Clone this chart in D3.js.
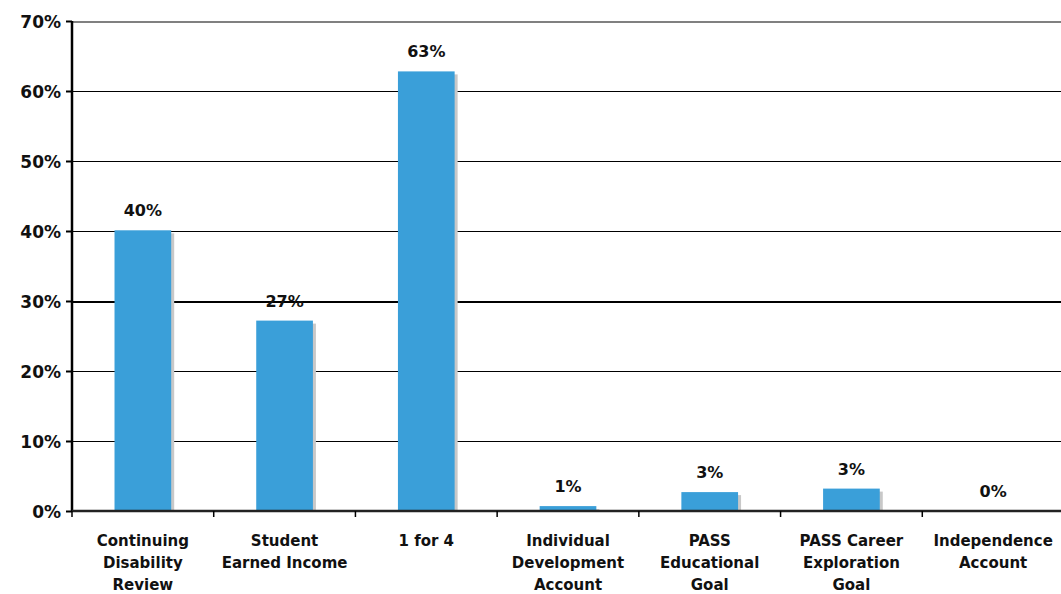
<!DOCTYPE html>
<html><head><meta charset="utf-8">
<script src="https://cdn.jsdelivr.net/npm/d3@7"></script>
<style>body{margin:0;background:#fff;}svg{display:block;}</style>
</head><body>
<svg id="c" width="1061" height="594"></svg>
<script>
const categories = [
  ["Continuing", "Disability", "Review"],
  ["Student", "Earned Income"],
  ["1 for 4"],
  ["Individual", "Development", "Account"],
  ["PASS", "Educational", "Goal"],
  ["PASS Career", "Exploration", "Goal"],
  ["Independence", "Account"]
];
const values = [40.1, 27.2, 62.8, 0.7, 2.7, 3.2, 0];
const valueLabels = ["40%", "27%", "63%", "1%", "3%", "3%", "0%"];
const yTicks = [0, 10, 20, 30, 40, 50, 60, 70];

const svg = d3.select("#c");
const x0 = 72, plotW = 992, yTop = 21, yBot = 511;
const x = d3.scaleBand().domain(d3.range(categories.length)).range([x0, x0 + plotW]).paddingInner(0.6).paddingOuter(0.3);
const xb = d3.scaleBand().domain(d3.range(categories.length)).range([x0, x0 + plotW]);
const y = d3.scaleLinear().domain([0, 70]).range([yBot, yTop]);
const font = "'DejaVu Sans', Verdana, sans-serif";

// gridlines
svg.append("g").attr("shape-rendering", "crispEdges").selectAll("line").data(yTicks.filter(d => d > 0)).join("line")
  .attr("x1", x0).attr("x2", 1061)
  .attr("y1", d => Math.round(y(d)) + 0.5).attr("y2", d => Math.round(y(d)) + 0.5)
  .attr("stroke", d => d === 70 ? "#808080" : "#000")
  .attr("stroke-width", d => d === 30 ? 2 : (d === 70 ? 2 : 1));

// shadows
svg.append("g").selectAll("rect").data(values).join("rect")
  .attr("x", (d, i) => x(i) + 3).attr("width", x.bandwidth())
  .attr("y", d => y(d) + 3).attr("height", d => Math.max(0, yBot - y(d) - 3))
  .attr("fill", "#c8c8c8");
// bars
svg.append("g").selectAll("rect").data(values).join("rect")
  .attr("x", (d, i) => x(i)).attr("width", x.bandwidth())
  .attr("y", d => y(d)).attr("height", d => yBot - y(d))
  .attr("fill", "#3a9fd9");

// value labels
svg.append("g").selectAll("text").data(values).join("text")
  .attr("x", (d, i) => x(i) + x.bandwidth() / 2)
  .attr("y", d => y(d) - 14)
  .attr("text-anchor", "middle")
  .attr("font-family", font).attr("font-weight", "bold").attr("font-size", 16)
  .attr("fill", "#111")
  .text((d, i) => valueLabels[i]);

// y axis
const yAxis = d3.axisLeft(y).tickValues(yTicks).tickFormat(d => d + "%").tickSize(6).tickPadding(5);
const ga = svg.append("g").attr("transform", `translate(${x0},0)`).call(yAxis);
ga.select(".domain").attr("stroke", "#000").attr("stroke-width", 2.5).attr("d", `M0,${yTop}V${yBot}`);
ga.selectAll(".tick line").attr("stroke", "#000").attr("stroke-width", 2);
ga.selectAll(".tick text").attr("font-family", font).attr("font-weight", "bold").attr("font-size", 17).attr("fill", "#111").attr("dy", "0.36em");

// x axis
const gx = svg.append("g").attr("transform", `translate(0,${yBot})`);
gx.append("line").attr("x1", x0).attr("x2", 1061).attr("y1", 0).attr("y2", 0).attr("stroke", "#222").attr("stroke-width", 2.5);
gx.selectAll("line.t").data(d3.range(categories.length + 1)).join("line").attr("class", "t")
  .attr("x1", i => x0 + i * xb.bandwidth()).attr("x2", i => x0 + i * xb.bandwidth())
  .attr("y1", 0).attr("y2", 6).attr("stroke", "#000").attr("stroke-width", 1.5);

// category labels
const cl = svg.append("g").selectAll("text").data(categories).join("text")
  .attr("text-anchor", "middle")
  .attr("font-family", font).attr("font-weight", "bold").attr("font-size", 15)
  .attr("fill", "#111");
cl.each(function(lines, i) {
  const t = d3.select(this);
  lines.forEach((l, j) => {
    t.append("tspan").attr("x", xb(i) + xb.bandwidth() / 2).attr("y", 546 + j * 22).text(l);
  });
});
</script>
</body></html>
